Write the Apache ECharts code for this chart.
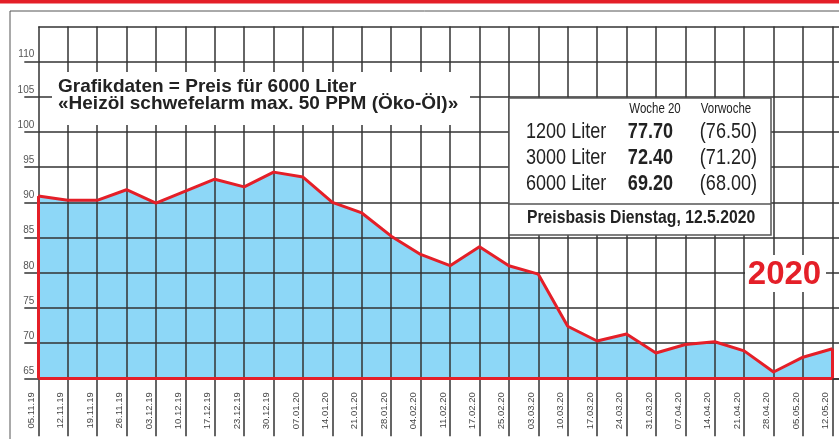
<!DOCTYPE html>
<html>
<head>
<meta charset="utf-8">
<script src="https://cdn.jsdelivr.net/npm/echarts@6/dist/echarts.min.js"></script>
<style>
html,body{margin:0;padding:0;background:#fff;}
#chart{width:839px;height:439px;}
</style>
</head>
<body>
<div id="chart"></div>
<script>
const categories = ['05.11.19','12.11.19','19.11.19','26.11.19','03.12.19','10.12.19','17.12.19','23.12.19','30.12.19','07.01.20','14.01.20','21.01.20','28.01.20','04.02.20','11.02.20','17.02.20','25.02.20','03.03.20','10.03.20','17.03.20','24.03.20','31.03.20','07.04.20','14.04.20','21.04.20','28.04.20','05.05.20','12.05.20'];
const prices = [90.9,90.3,90.3,91.8,89.9,91.6,93.3,92.2,94.3,93.6,90.0,88.5,85.2,82.6,81.0,83.7,81.0,79.8,72.4,70.3,71.3,68.6,69.8,70.2,68.9,65.9,68.0,69.2];
const yMin = 65, yMax = 115, yStep = 5;
const titleLines = ['Grafikdaten = Preis für 6000 Liter', '«Heizöl schwefelarm max. 50 PPM (Öko-Öl)»'];
const tableHeaders = ['Woche 20', 'Vorwoche'];
const tableLabels = ['1200 Liter', '3000 Liter', '6000 Liter'];
const tableCurrent = ['77.70', '72.40', '69.20'];
const tablePrevious = ['(76.50)', '(71.20)', '(68.00)'];
const tableFooter = 'Preisbasis Dienstag, 12.5.2020';
const yearLabel = '2020';

const SANS = '"Liberation Sans",Arial,Helvetica,sans-serif';
const RED = '#e41f28';
const GRID = '#333';
const NARROW_SCALE = 0.82;
const last = categories.length - 1;

const chart = echarts.init(document.getElementById('chart'), null, {renderer: 'canvas'});

function narrowText(x, y, text, font, align, scale) {
  return {
    type: 'text', x: x, y: y, scaleX: scale || NARROW_SCALE, z: 11,
    style: {text: text, font: font, fill: '#222', align: align || 'left', verticalAlign: 'middle'}
  };
}

const graphics = [
  {type: 'rect', shape: {x: 0, y: 0, width: 839, height: 3.5}, style: {fill: RED}, z: 10},
  {type: 'line', shape: {x1: 10, y1: 11, x2: 839, y2: 11}, style: {stroke: '#555', lineWidth: 1}, z: 10},
  {type: 'line', shape: {x1: 10, y1: 11, x2: 10, y2: 439}, style: {stroke: '#555', lineWidth: 1}, z: 10},
  // title background + text
  {type: 'rect', shape: {x: 52, y: 72, width: 418, height: 53}, style: {fill: '#fff'}, z: 10},
  {type: 'text', x: 58, y: 86.5, z: 11, style: {text: titleLines[0], font: 'bold 19px ' + SANS, fill: '#222', verticalAlign: 'middle'}},
  {type: 'text', x: 58, y: 103.7, z: 11, style: {text: titleLines[1], font: 'bold 19px ' + SANS, fill: '#222', verticalAlign: 'middle'}},
  // table
  {type: 'rect', shape: {x: 509, y: 98, width: 262, height: 137}, style: {fill: '#fff', stroke: '#555', lineWidth: 1.5}, z: 10},
  {type: 'line', shape: {x1: 509, y1: 204, x2: 771, y2: 204}, style: {stroke: '#555', lineWidth: 1.5}, z: 11},
  narrowText(655, 109, tableHeaders[0], '14px ' + SANS, 'center'),
  narrowText(726, 109, tableHeaders[1], '14px ' + SANS, 'center'),
  narrowText(527, 218, tableFooter, 'bold 18.5px ' + SANS, 'left', 0.85),
  // year label
  {type: 'rect', shape: {x: 745, y: 255, width: 81, height: 37}, style: {fill: '#fff'}, z: 10},
  {type: 'text', x: 784.5, y: 275, z: 11, style: {text: yearLabel, font: 'bold 33px ' + SANS, fill: RED, align: 'center', verticalAlign: 'middle'}}
];
const rowY = [132, 158, 184];
tableLabels.forEach((lab, i) => {
  graphics.push(narrowText(526, rowY[i], lab, '22px ' + SANS, 'left'));
  graphics.push(narrowText(673, rowY[i], tableCurrent[i], 'bold 22px ' + SANS, 'right'));
  graphics.push(narrowText(757, rowY[i], tablePrevious[i], '22px ' + SANS, 'right'));
});

const option = {
  animation: false,
  backgroundColor: '#fff',
  grid: {left: 38.3, width: 823.5, top: 26.5, bottom: 60.7, containLabel: false, outerBoundsMode: 'none'},
  xAxis: {
    type: 'category',
    data: categories,
    boundaryGap: false,
    max: categories.length,
    z: 3,
    axisLine: {show: true, lineStyle: {color: GRID, width: 1.5}},
    axisTick: {show: true, interval: 0, length: 58, lineStyle: {color: GRID, width: 1.5}},
    axisLabel: {
      interval: 0, rotate: 90, margin: 14, fontSize: 9.5, fontFamily: SANS, color: '#444',
      verticalAlign: 'bottom', padding: [0, 0, 2, 0],
      formatter: v => (v === undefined || v === 'undefined') ? '' : v
    },
    splitLine: {show: true, interval: 0, lineStyle: {color: GRID, width: 1.5}}
  },
  yAxis: {
    type: 'value',
    min: yMin, max: yMax, interval: yStep,
    z: 3,
    axisLine: {show: false},
    axisTick: {show: true, length: 14, lineStyle: {color: GRID, width: 1.5}},
    axisLabel: {
      showMaxLabel: false, fontSize: 10, fontFamily: SANS, color: '#555',
      margin: 4, verticalAlign: 'bottom', padding: [0, 0, 2, 0]
    },
    splitLine: {show: true, lineStyle: {color: GRID, width: 1.5}}
  },
  series: [
    {
      type: 'line', data: prices, z: 1, symbol: 'none', silent: true,
      lineStyle: {width: 0, opacity: 0},
      areaStyle: {color: '#8dd7f7', opacity: 1, origin: 'start'}
    },
    {
      type: 'line', data: prices, z: 5, symbol: 'none', silent: true,
      lineStyle: {color: RED, width: 3, join: 'round'},
      markLine: {
        silent: true, symbol: 'none', label: {show: false},
        lineStyle: {color: RED, width: 3, type: 'solid'},
        data: [
          [{coord: [categories[0], yMin]}, {coord: [categories[last], yMin]}],
          [{coord: [categories[0], yMin]}, {coord: [categories[0], prices[0]]}],
          [{coord: [categories[last], yMin]}, {coord: [categories[last], prices[last]]}]
        ]
      }
    }
  ],
  graphic: graphics
};
chart.setOption(option);
</script>
</body>
</html>
